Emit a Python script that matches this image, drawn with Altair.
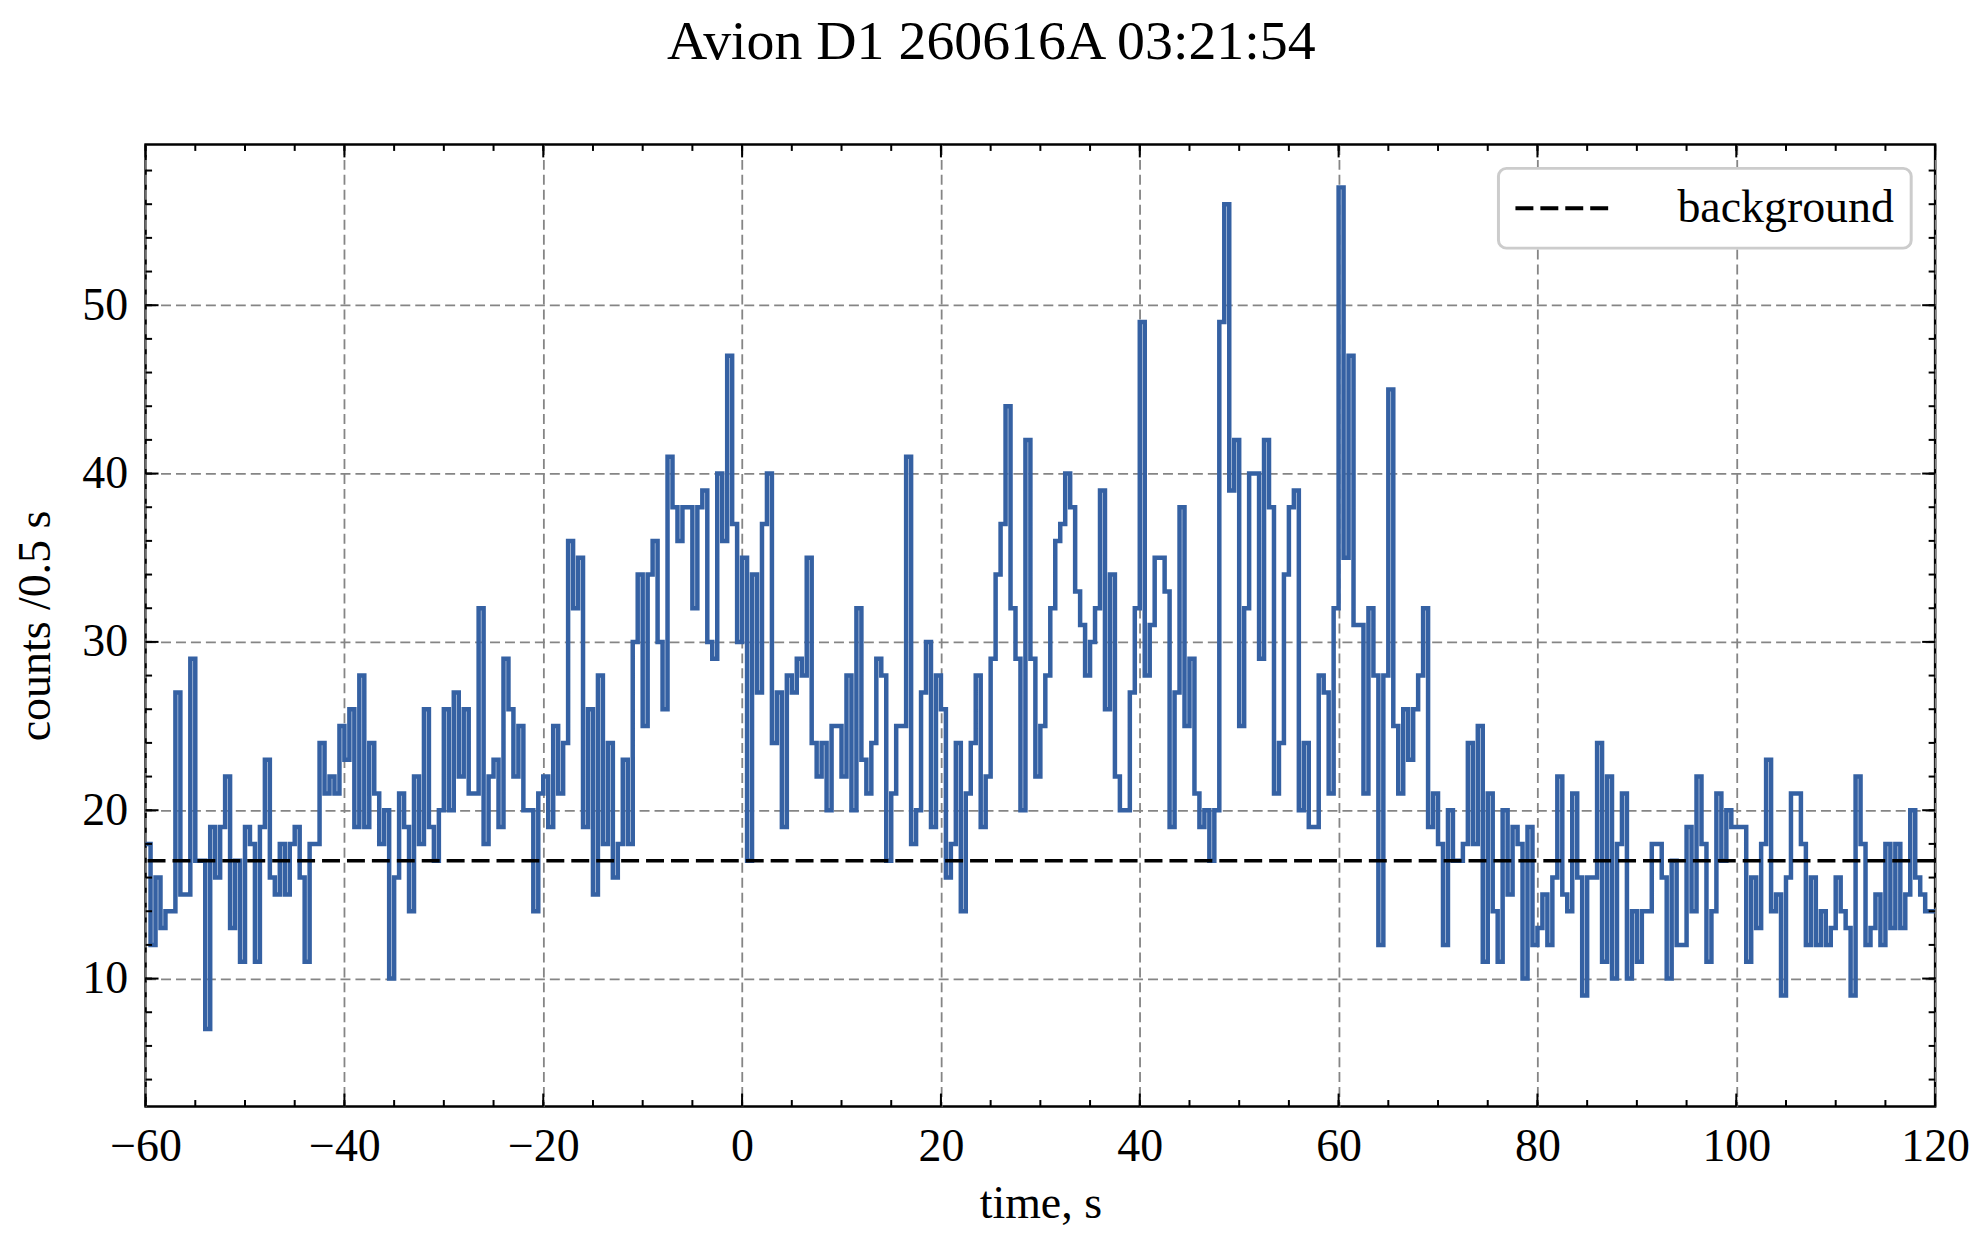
import altair as alt
import pandas as pd

# light curve: counts per 0.5 s bin, starting at t = -60 s
title_text = "Avion D1 260616A 03:21:54"
t_start = -60.0
bin_width = 0.5

counts = (
    # -60 .. -37.5 s
    [18, 12, 16, 13, 14, 14, 27, 15, 15, 29,
     17, 17, 7, 19, 16, 19, 22, 13, 17, 11,
     19, 18, 11, 19, 23, 16, 15, 18, 15, 18,
     19, 16, 11, 18, 18, 24, 21, 22, 21, 25,
     23, 26, 19, 28, 19]
    # -37.5 .. -15 s
    + [24, 21, 18, 20, 10, 16, 21, 19, 14, 22,
       18, 26, 19, 17, 20, 26, 20, 27, 22, 26,
       21, 21, 32, 18, 22, 23, 19, 29, 26, 22,
       25, 20, 20, 14, 21, 22, 19, 25, 21, 24,
       36, 32, 35, 19, 26]
    # -15 .. 7.5 s
    + [15, 28, 18, 24, 16, 18, 23, 18, 30, 34,
       25, 34, 36, 30, 26, 41, 38, 36, 38, 38,
       32, 38, 39, 30, 29, 40, 36, 47, 37, 30,
       35, 17, 34, 27, 37, 40, 24, 27, 19, 28,
       27, 29, 28, 35, 24]
    # 7.5 .. 30 s
    + [22, 24, 20, 25, 25, 22, 28, 20, 32, 23,
       21, 24, 29, 28, 17, 21, 25, 25, 41, 18,
       20, 27, 30, 19, 28, 26, 16, 18, 24, 14,
       21, 24, 28, 19, 22, 29, 34, 37, 44, 32,
       29, 20, 42, 29, 22]
    # 30 .. 52.5 s
    + [25, 28, 32, 36, 37, 40, 38, 33, 31, 28,
       30, 32, 39, 26, 34, 22, 20, 20, 27, 32,
       49, 28, 31, 35, 35, 33, 19, 27, 38, 25,
       29, 21, 19, 20, 17, 20, 49, 56, 39, 42,
       25, 32, 40, 40, 29]
    # 52.5 .. 75 s
    + [42, 38, 21, 24, 34, 38, 39, 20, 24, 19,
       19, 28, 27, 21, 32, 57, 35, 47, 31, 31,
       21, 32, 28, 12, 28, 45, 25, 21, 26, 23,
       26, 28, 32, 19, 21, 18, 12, 20, 17, 17,
       18, 24, 18, 25, 11]
    # 75 .. 97.5 s
    + [21, 14, 11, 20, 15, 19, 18, 10, 19, 12,
       13, 15, 12, 16, 22, 15, 14, 21, 16, 9,
       16, 16, 24, 11, 22, 10, 18, 21, 10, 14,
       11, 14, 14, 18, 18, 16, 10, 17, 12, 12,
       19, 14, 22, 18, 11]
    # 97.5 .. 120 s
    + [14, 21, 17, 20, 19, 19, 19, 11, 16, 13,
       18, 23, 14, 15, 9, 16, 21, 21, 18, 12,
       16, 12, 14, 12, 13, 16, 14, 13, 9, 22,
       18, 12, 13, 15, 12, 18, 13, 18, 13, 15,
       20, 16, 15, 14, 14]
)

background_level = 17
legend_label = "background"

x_major = [-60, -40, -20, 0, 20, 40, 60, 80, 100, 120]
x_minor = list(range(-60, 121, 5))
y_major = [10, 20, 30, 40, 50]
y_minor = list(range(4, 60, 2))
x_domain = [-60, 120]
y_domain = [2.4, 59.55]

W, H = 1795, 965
FONT = "Liberation Serif"
BLUE = "#3561a3"

# step edges: left edge of every bin, plus the closing edge
edges = [t_start + bin_width * i for i in range(len(counts) + 1)]
hist = pd.DataFrame({"t": edges, "counts": counts + [counts[-1]]})
bg = pd.DataFrame({"level": [background_level], "label": [legend_label]})

x_scale = alt.Scale(domain=x_domain, nice=False, zero=False)
y_scale = alt.Scale(domain=y_domain, nice=False, zero=False)

axis_style = dict(
    grid=True, gridDash=[10, 5], gridColor="#858585", gridWidth=1.8,
    ticks=False, tickSize=0, domain=False,
    labelFont=FONT, labelFontSize=46, labelColor="black",
    labelFlush=False, labelOverlap=False, labelBound=False,
    titleFont=FONT, titleFontSize=46, titleFontWeight="normal", titleColor="black",
    format="d", labelExpr="replace(datum.label, '-', '\u2212')",
)
x_axis = alt.Axis(values=x_major, title="time, s", labelPadding=18, titlePadding=12, **axis_style)
y_axis = alt.Axis(values=y_major, title="counts /0.5 s", labelPadding=18, titlePadding=22, **axis_style)

X = alt.X("t:Q", scale=x_scale, axis=x_axis)
Y = alt.Y("v:Q", scale=y_scale, axis=y_axis)

line = alt.Chart(hist).mark_line(
    interpolate="step-after", color=BLUE, strokeWidth=4.5, clip=True
).encode(x=X, y=alt.Y("counts:Q", scale=y_scale, axis=y_axis))

background = alt.Chart(bg).mark_rule(strokeDash=[18, 7], strokeWidth=3.5).encode(
    y=alt.Y("level:Q", scale=y_scale, axis=y_axis),
    color=alt.Color(
        "label:N",
        scale=alt.Scale(domain=[legend_label], range=["black"]),
        legend=alt.Legend(
            title=None, orient="top-right", offset=24, padding=17,
            cornerRadius=8, strokeColor="#cccccc", fillColor="white",
            symbolType="M-2.26,0H2.26", symbolSize=1764, symbolOffset=24.5,
            symbolStrokeWidth=4, symbolDash=[18, 7], symbolStrokeColor="black",
            labelFont=FONT, labelFontSize=46, labelColor="black", labelOffset=92,
            labelLimit=600,
        ),
    ),
)

# inward ticks on all four sides, like the matplotlib frame
xt_major = pd.DataFrame({"t": x_major})
xt_minor = pd.DataFrame({"t": x_minor})
yt_major = pd.DataFrame({"v": y_major})
yt_minor = pd.DataFrame({"v": y_minor})


def x_ticks(df, length):
    base = alt.Chart(df).mark_rule(color="black", strokeWidth=2)
    top = base.encode(x=X, y=alt.value(0), y2=alt.value(length))
    bottom = base.encode(x=X, y=alt.value(H), y2=alt.value(H - length))
    return top + bottom


def y_ticks(df, length):
    base = alt.Chart(df).mark_rule(color="black", strokeWidth=2)
    left = base.encode(y=Y, x=alt.value(0), x2=alt.value(length))
    right = base.encode(y=Y, x=alt.value(W), x2=alt.value(W - length))
    return left + right


chart = (
    alt.layer(
        line,
        background,
        x_ticks(xt_major, 13),
        x_ticks(xt_minor, 6.5),
        y_ticks(yt_major, 13),
        y_ticks(yt_minor, 6.5),
    )
    .properties(
        width=W,
        height=H,
        background="white",
        padding={"left": 5, "right": 5, "top": 4, "bottom": 0},
        title=alt.TitleParams(
            title_text, font=FONT, fontSize=56, fontWeight="normal", color="black",
            anchor="middle", frame="bounds", offset=73,
        ),
    )
    .configure_view(stroke="black", strokeWidth=2.5)
    .configure_legend(strokeWidth=3)
)

chart.save("out.html", embed_options={"renderer": "svg", "actions": False})
